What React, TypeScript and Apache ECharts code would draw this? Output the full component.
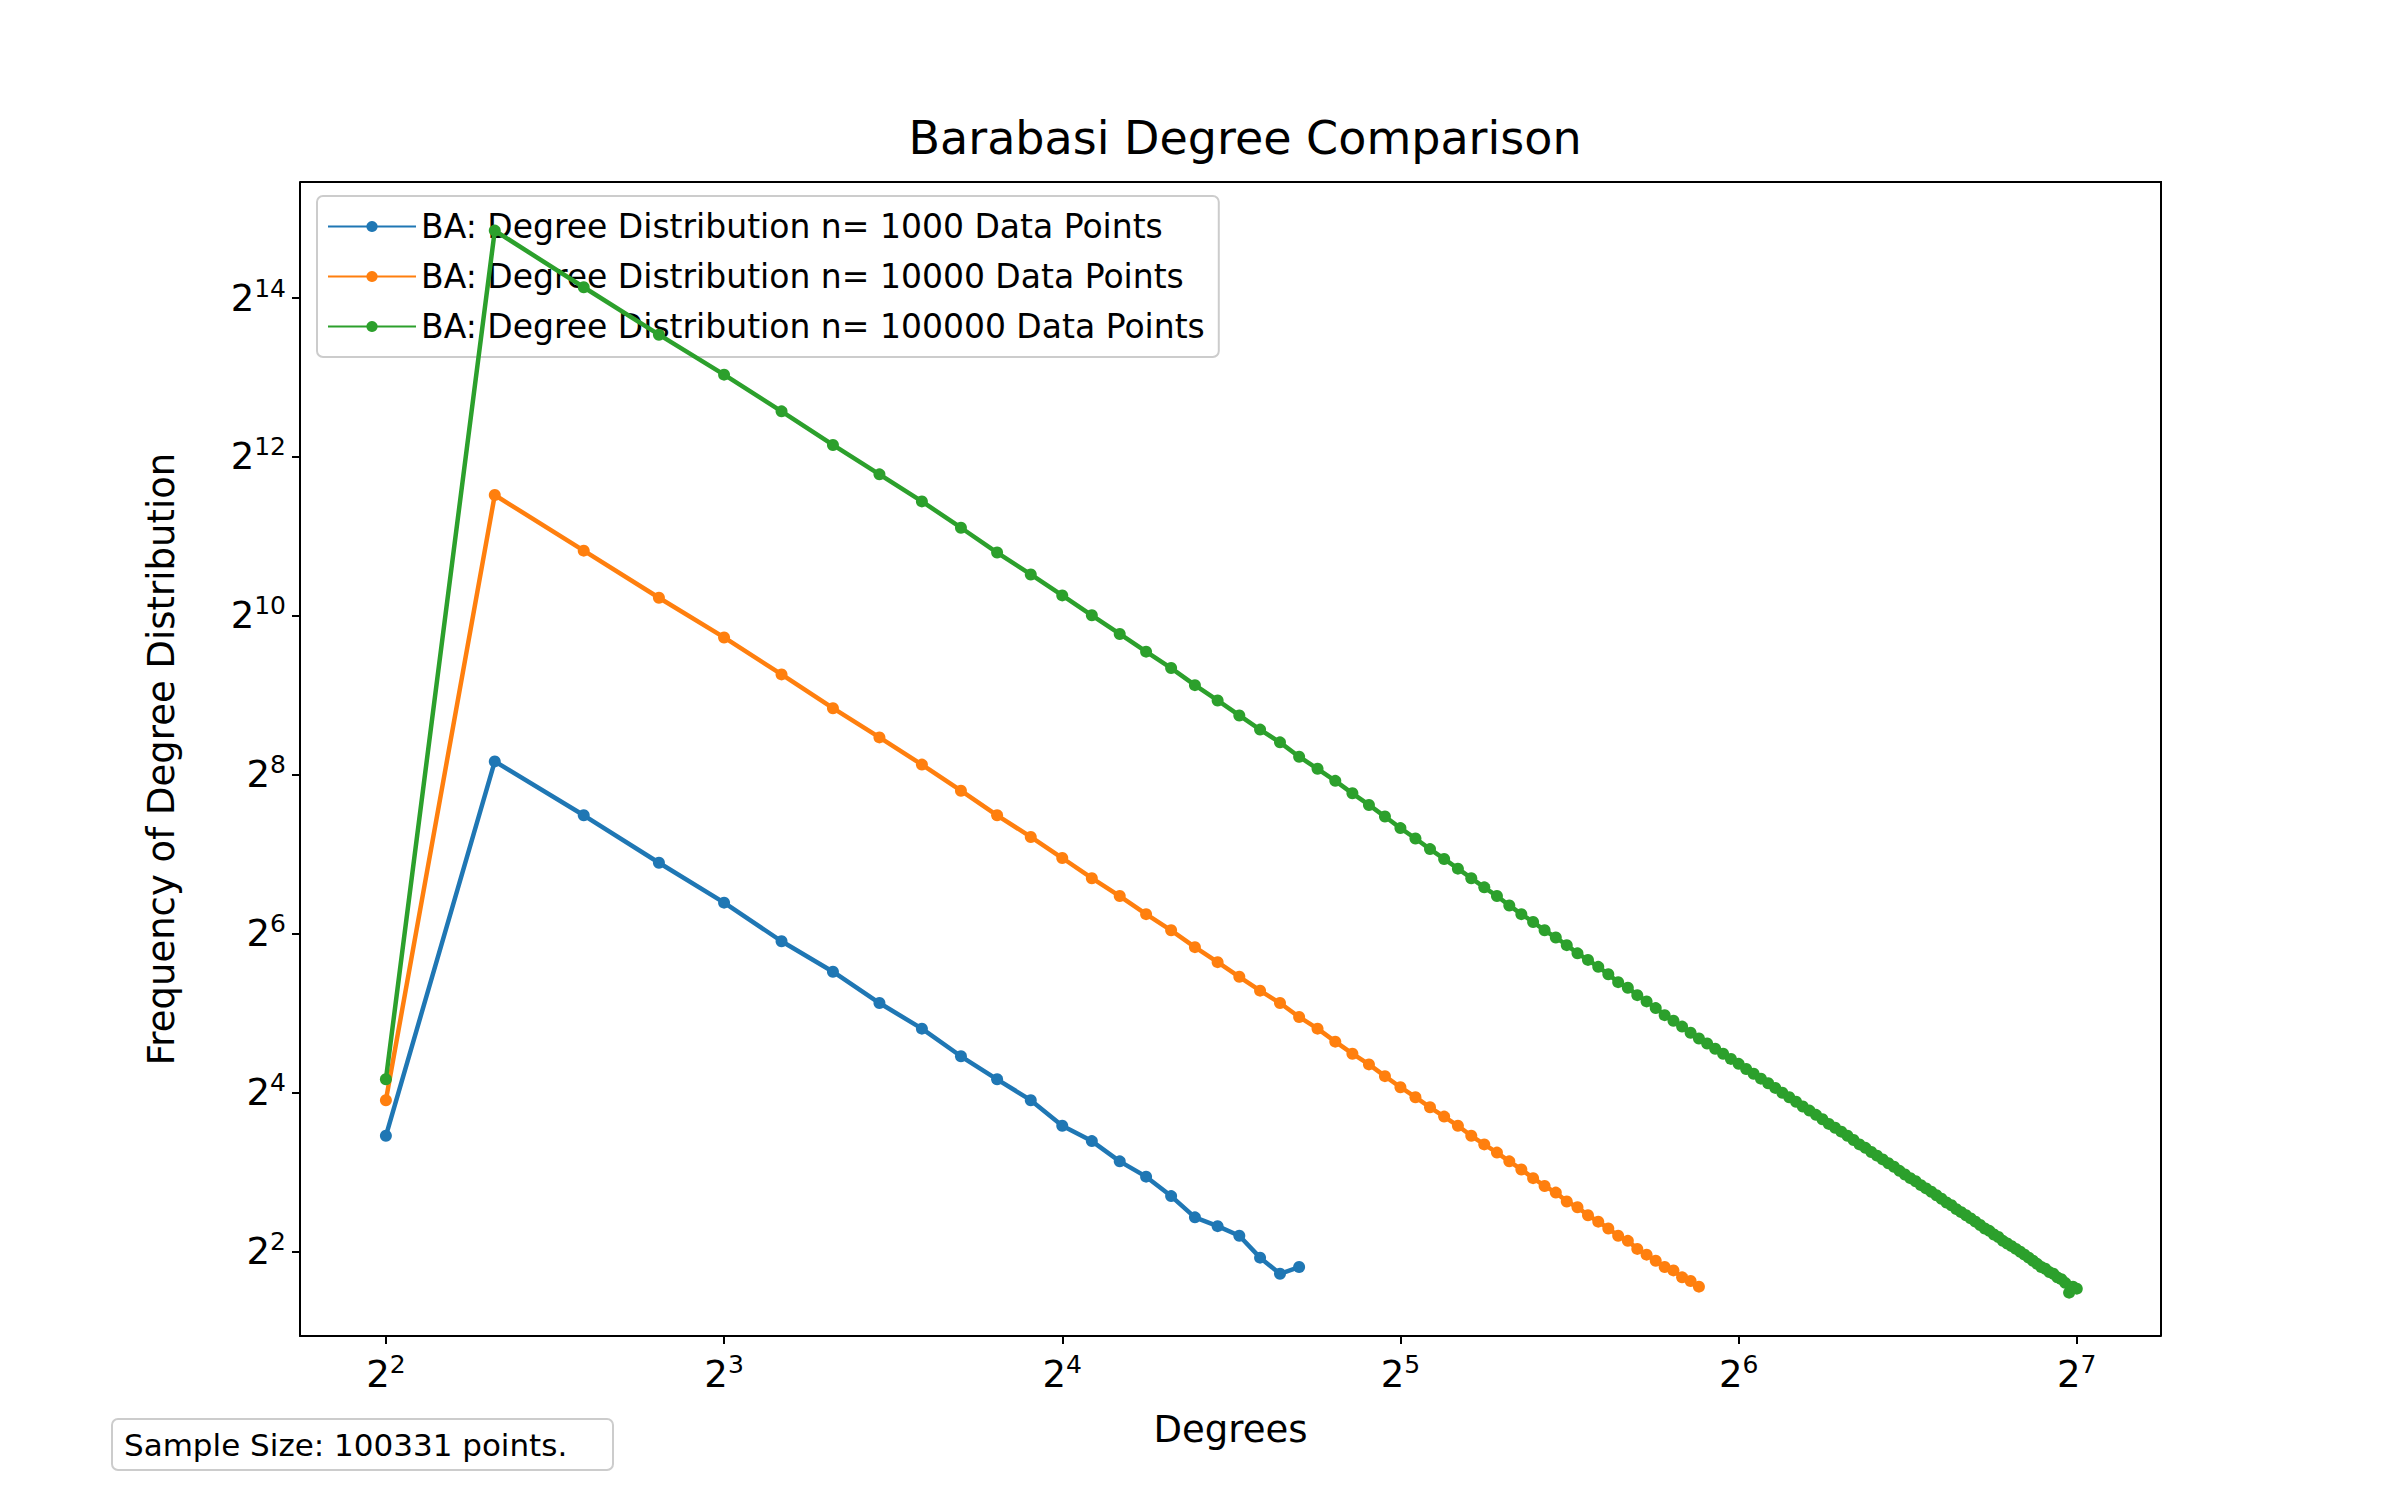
import React, { useEffect, useRef } from 'react';
import * as echarts from 'echarts';

// degrees start at 4 for every series
const startDegree = 4;

const blueFreq = [11, 288, 180, 119, 84, 60, 46, 35, 28, 22, 18, 15, 12, 10.5, 8.8, 7.7, 6.5, 5.4, 5, 4.6, 3.8, 3.3, 3.5];

const orangeFreq = [
  15, 2940, 1810, 1200, 849, 615, 458, 355, 280, 223, 180, 149, 124, 104, 89, 76, 66, 57, 50, 44,
  39, 35, 31, 28, 25, 22.5, 20.5, 18.5, 16.8, 15.4, 14.1, 13, 12, 11, 10.2, 9.5, 8.8, 8.2, 7.6, 7.1,
  6.7, 6.2, 5.9, 5.5, 5.2, 4.9, 4.6, 4.4, 4.1, 3.9, 3.7, 3.5, 3.4, 3.2, 3.1, 2.95,
];

const greenFreq = [
  18, 29500, 18000, 11900, 8400, 6100, 4550, 3520, 2780, 2210, 1780, 1470, 1225, 1030, 875, 750, 650, 560, 490, 430,
  380, 340, 300, 270, 243, 218, 197, 178, 161, 147, 134, 123, 113, 104, 96, 89, 82, 76, 71, 66,
  62, 58, 54, 51, 48, 45, 42, 40, 37.5, 35.5, 33.5, 31.5, 30, 28.5, 27, 25.7, 24.6, 23.5, 22.5, 21.5,
  20.6, 19.7, 18.9, 18.1, 17.4, 16.7, 16.0, 15.4, 14.8, 14.2, 13.7, 13.2, 12.7, 12.2, 11.8, 11.4, 11.0, 10.6, 10.2, 9.9,
  9.55, 9.25, 8.95, 8.65, 8.4, 8.1, 7.85, 7.6, 7.4, 7.15, 6.95, 6.75, 6.55, 6.35, 6.15, 6.0, 5.8, 5.65, 5.5, 5.35,
  5.2, 5.05, 4.9, 4.8, 4.65, 4.55, 4.4, 4.3, 4.2, 4.1, 4.0, 3.9, 3.8, 3.7, 3.6, 3.5, 3.45, 3.35, 3.3, 3.2,
  3.15, 3.05, 2.8, 2.95, 2.9,
];

const seriesNames = [
  'BA: Degree Distribution n= 1000 Data Points',
  'BA: Degree Distribution n= 10000 Data Points',
  'BA: Degree Distribution n= 100000 Data Points',
];
const seriesColors = ['#1f77b4', '#ff7f0e', '#2ca02c'];

const toLog = (freq: number[]) => freq.map((f, i) => [Math.log2(startDegree + i), Math.log2(f)]);

const powLabel = (v: number) => `{b|2}{s|${Math.round(v)}}`;
const rich = {
  b: { fontSize: 37, color: '#000', fontFamily: 'DejaVu Sans' },
  s: { fontSize: 25, color: '#000', fontFamily: 'DejaVu Sans', padding: [0, 0, 20, 0] },
};

const GRID = { left: 300, right: 239, top: 182, bottom: 164 };

const App: React.FC = () => {
  const chartRef = useRef<HTMLDivElement>(null);

  useEffect(() => {
    if (!chartRef.current) return;
    document.body.style.margin = '0';
    const chart = echarts.init(chartRef.current, undefined, { renderer: 'svg' });
    const font = 'DejaVu Sans';
    const rightX = 2400 - GRID.right;
    const bottomY = 1500 - GRID.bottom;

    const option: echarts.EChartsOption = {
      animation: false,
      backgroundColor: '#fff',
      textStyle: { fontFamily: font },
      title: {
        text: 'Barabasi Degree Comparison',
        left: 1240,
        textAlign: 'center',
        top: 110,
        textStyle: { fontSize: 46, fontWeight: 'normal', color: '#000', fontFamily: font },
      },
      legend: {
        orient: 'vertical',
        left: 317,
        top: 196,
        padding: [14, 14, 14, 10],
        itemGap: 17,
        itemWidth: 88,
        itemHeight: 14,
        borderColor: '#ccc',
        borderWidth: 2,
        borderRadius: 6,
        backgroundColor: 'rgba(255,255,255,0.8)',
        textStyle: { fontSize: 33, color: '#000', fontFamily: font },
        data: seriesNames,
      },
      grid: GRID,
      xAxis: {
        type: 'value',
        min: 1.746,
        max: 7.249,
        splitNumber: 5,
        name: 'Degrees',
        nameLocation: 'middle',
        nameGap: 75,
        nameTextStyle: { fontSize: 37, color: '#000', fontFamily: font },
        axisLine: { onZero: false, lineStyle: { color: '#000', width: 2 } },
        axisTick: { length: 8, lineStyle: { color: '#000', width: 2 } },
        axisLabel: { showMinLabel: false, showMaxLabel: false, margin: 16, formatter: powLabel, rich },
        splitLine: { show: false },
      },
      yAxis: {
        type: 'value',
        min: 0.94,
        max: 15.46,
        splitNumber: 7,
        name: 'Frequency of Degree Distribution',
        nameLocation: 'middle',
        nameGap: 120,
        nameTextStyle: { fontSize: 37, color: '#000', fontFamily: font },
        axisLine: { onZero: false, lineStyle: { color: '#000', width: 2 } },
        axisTick: { length: 8, lineStyle: { color: '#000', width: 2 } },
        axisLabel: { showMinLabel: false, showMaxLabel: false, margin: 14, formatter: powLabel, rich },
        splitLine: { show: false },
      },
      graphic: [
        // frame top/right
        {
          type: 'polyline',
          shape: { points: [[GRID.left, GRID.top], [rightX, GRID.top], [rightX, bottomY]] },
          style: { stroke: '#000', lineWidth: 2, fill: 'none' },
          silent: true,
        },
        {
          type: 'group',
          left: 111,
          top: 1418,
          children: [
            {
              type: 'rect',
              shape: { x: 0, y: 0, width: 501, height: 51, r: 6 },
              style: { fill: '#fff', stroke: '#ccc', lineWidth: 2 },
            },
            {
              type: 'text',
              style: {
                x: 12,
                y: 26,
                text: 'Sample Size: 100331 points.',
                fontSize: 31,
                fontFamily: font,
                fill: '#000',
                verticalAlign: 'middle',
              },
            },
          ],
        },
      ],
      series: [blueFreq, orangeFreq, greenFreq].map((freq, i) => ({
        name: seriesNames[i],
        type: 'line' as const,
        data: toLog(freq),
        symbol: 'circle',
        symbolSize: 12,
        lineStyle: { width: 4.5, color: seriesColors[i] },
        itemStyle: { color: seriesColors[i] },
        z: 2 + i,
      })),
    };

    chart.setOption(option);
    return () => chart.dispose();
  }, []);

  return <div ref={chartRef} style={{ width: 2400, height: 1500 }} />;
};

export default App;
